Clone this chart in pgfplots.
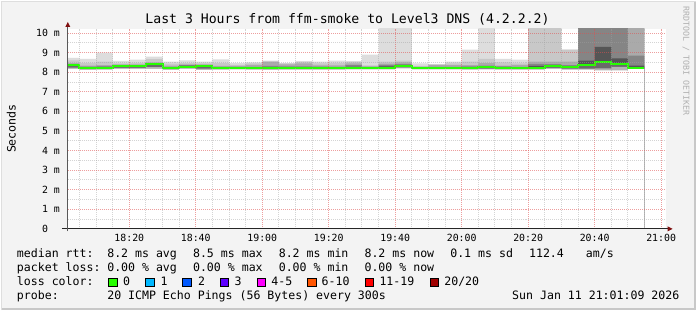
\documentclass[border=0pt]{standalone}
\usepackage{fontspec}
\setmainfont{DejaVu Sans Mono}
\usepackage{pgfplots}
\usepackage{pgfplotstable}
\pgfplotsset{compat=1.18}

\definecolor{canvas}{HTML}{F3F3F3}
\definecolor{edge}{HTML}{C8C8C8}
\definecolor{sA}{HTML}{DDDDDD}
\definecolor{sB}{HTML}{C8C8C8}
\definecolor{sC}{HTML}{AAAAAA}
\definecolor{sD}{HTML}{858585}
\definecolor{sE}{HTML}{555555}
\definecolor{sF}{HTML}{6A6A6A}
\definecolor{sG}{HTML}{B4B4B4}
\definecolor{medc}{HTML}{26FF00}
\definecolor{mgrid}{HTML}{E05050}
\definecolor{agrid}{HTML}{A0A0A0}
\definecolor{arrowred}{HTML}{801010}
\definecolor{lA}{HTML}{00B8FF}
\definecolor{lB}{HTML}{0059FF}
\definecolor{lC}{HTML}{5E00FF}
\definecolor{lD}{HTML}{FF00FF}
\definecolor{lE}{HTML}{FF5500}
\definecolor{lF}{HTML}{FF0000}
\definecolor{lG}{HTML}{A00000}
\definecolor{rrdgray}{HTML}{B0B0B0}

% smoke bands per 5-minute step (minutes after 18:00)
\pgfplotstableread{
x   lo   m1   med  u1   u2    u3    u4    hi
0   8.17 8.24 8.36 8.38 8.40  8.47  8.61  8.74
5   8.12 8.16 8.20 8.25 8.29  8.34  8.47  8.68
10  8.14 8.18 8.24 8.27 8.30  8.37  8.54  9.00
15  8.17 8.22 8.30 8.32 8.35  8.40  8.45  8.58
20  8.17 8.22 8.30 8.32 8.35  8.40  8.48  8.64
25  8.17 8.26 8.40 8.43 8.46  8.51  8.67  8.80
30  8.12 8.16 8.20 8.24 8.28  8.34  8.44  8.54
35  8.17 8.22 8.27 8.33 8.36  8.40  8.47  8.61
40  8.12 8.18 8.31 8.33 8.36  8.40  8.46  8.54
45  8.14 8.18 8.22 8.25 8.28  8.33  8.47  8.66
50  8.15 8.18 8.22 8.25 8.28  8.32  8.38  8.47
55  8.14 8.17 8.20 8.24 8.27  8.38  8.45  8.50
60  8.12 8.16 8.21 8.26 8.33  8.52  8.57  8.59
65  8.14 8.18 8.22 8.25 8.30  8.40  8.45  8.47
70  8.13 8.16 8.21 8.25 8.30  8.45  8.53  8.57
75  8.14 8.17 8.20 8.26 8.29  8.35  8.45  8.54
80  8.14 8.17 8.20 8.24 8.28  8.35  8.48  8.59
85  8.15 8.19 8.24 8.28 8.36  8.45  8.53  8.57
90  8.15 8.17 8.21 8.24 8.27  8.30  8.35  8.90
95  8.15 8.19 8.24 8.30 8.38  8.44  8.54  10.50
100 8.20 8.25 8.32 8.36 8.42  8.50  8.60  10.50
105 8.15 8.18 8.21 8.24 8.26  8.29  8.32  8.46
110 8.15 8.18 8.21 8.24 8.27  8.37  8.40  8.42
115 8.15 8.18 8.21 8.24 8.27  8.37  8.45  8.54
120 8.14 8.17 8.20 8.24 8.30  8.37  8.54  9.15
125 8.15 8.19 8.25 8.30 8.34  8.47  8.68  10.50
130 8.14 8.17 8.21 8.25 8.30  8.34  8.50  8.69
135 8.14 8.17 8.21 8.25 8.28  8.38  8.45  8.64
140 8.14 8.17 8.21 8.33 8.43  8.54  10.50 10.50
145 8.17 8.22 8.32 8.36 8.42  8.54  10.50 10.50
150 8.14 8.19 8.26 8.30 8.37  8.54  9.15  9.15
155 8.14 8.18 8.39 8.60 10.50 10.50 10.50 10.50
160 8.10 8.20 8.52 9.30 10.50 10.50 10.50 10.50
165 8.10 8.28 8.41 8.71 10.50 10.50 10.50 10.50
170 8.16 8.19 8.23 8.34 8.85  10.50 10.50 10.50
175 8.16 8.19 8.23 8.34 8.85  10.50 10.50 10.50
}\smoke

\newcommand{\lf}{\fontsize{11.6}{13}\selectfont}

\begin{document}
\begin{tikzpicture}[x=1pt,y=1pt]
% canvas
\fill[canvas] (0,0) rectangle (697,310);
\draw[edge, line width=2pt] (0,1) -- (697,1);
\draw[edge, line width=2pt] (696,0) -- (696,310);
\draw[edge!60, line width=1pt] (0,309.5) -- (697,309.5);
\draw[edge!60, line width=1pt] (0.5,0) -- (0.5,310);

\begin{axis}[
  at={(67pt,81.5pt)}, anchor=south west, scale only axis,
  width=600pt, height=200.8pt,
  xmin=1.5, xmax=181.5, ymin=0, ymax=10.23,
  axis on top,
  axis background/.style={fill=white},
  axis line style={draw=none},
  tick style={draw=none},
  xtick={20,40,60,80,100,120,140,160,180},
  xticklabels={18:20,18:40,19:00,19:20,19:40,20:00,20:20,20:40,21:00},
  minor xtick={5,10,15,25,30,35,45,50,55,65,70,75,85,90,95,105,110,115,125,130,135,145,150,155,165,170,175},
  ytick={0,1,2,3,4,5,6,7,8,9,10},
  yticklabels={0\hphantom{\ m},1\ m,2\ m,3\ m,4\ m,5\ m,6\ m,7\ m,8\ m,9\ m,10\ m},
  minor ytick={0.5,1.5,2.5,3.5,4.5,5.5,6.5,7.5,8.5,9.5},
  grid=both,
  major grid style={draw=mgrid, opacity=0.55, line width=1pt, dash pattern=on 1pt off 1pt},
  minor grid style={draw=agrid, opacity=0.45, line width=1pt, dash pattern=on 1pt off 1pt},
  tick label style={font=\fontsize{9.9}{11}\selectfont, inner sep=0pt},
  xticklabel style={anchor=north, yshift=-4.8pt},
  yticklabel style={anchor=east, xshift=-7.7pt},
]
\addplot[ybar interval, fill=sA, draw=none] table[x=x, y=hi]{\smoke};
\addplot[ybar interval, fill=sB, draw=none] table[x=x, y=u4]{\smoke};
\addplot[ybar interval, fill=sC, draw=none] table[x=x, y=u3]{\smoke};
\addplot[ybar interval, fill=sD, draw=none] table[x=x, y=u2]{\smoke};
\addplot[ybar interval, fill=sE, draw=none] table[x=x, y=u1]{\smoke};
\addplot[ybar interval, fill=sF, draw=none] table[x=x, y=med]{\smoke};
\addplot[ybar interval, fill=sG, draw=none] table[x=x, y=m1]{\smoke};
\addplot[ybar interval, fill=white, draw=none] table[x=x, y=lo]{\smoke};
\addplot[const plot, draw=medc, line width=2pt] table[x=x, y=med]{\smoke};
\end{axis}

% axes with arrows
\draw[line width=1pt, black!85] (61,81.5) -- (669,81.5);
\fill[arrowred] (668.5,84) -- (673.5,81.5) -- (668.5,79) -- cycle;
\draw[line width=1pt, black!65] (67,79) -- (67,285);
\fill[arrowred] (64.5,284) -- (67,289) -- (69.5,284) -- cycle;

% title
\node[anchor=base, inner sep=0pt, font=\fontsize{13.2}{15}\selectfont] at (347.5,287) {Last 3 Hours from ffm-smoke to Level3 DNS (4.2.2.2)};
% y label
\node[rotate=90, inner sep=0pt, font=\lf] at (10.3,182) {Seconds};
% rrdtool watermark
\node[rotate=-90, anchor=west, inner sep=0pt, text=rrdgray, font=\fontsize{8.3}{9}\selectfont] at (687,305) {RRDTOOL / TOBI OETIKER};

% legend line 1
\begin{scope}[every node/.style={anchor=base west, inner sep=0pt, font=\lf}]
\node at (15.8,52.3) {median rtt:};
\node at (106.4,52.3) {8.2 ms avg};
\node at (192.4,52.3) {8.5 ms max};
\node at (278.4,52.3) {8.2 ms min};
\node at (364.4,52.3) {8.2 ms now};
\node at (450.4,52.3) {0.1 ms sd};
\node at (529.4,52.3) {112.4};
\node at (586.4,52.3) {am/s};
% line 2
\node at (15.8,38.3) {packet loss:};
\node at (106.4,38.3) {0.00 \% avg};
\node at (192.4,38.3) {0.00 \% max};
\node at (278.4,38.3) {0.00 \% min};
\node at (364.4,38.3) {0.00 \% now};
% line 3
\node at (15.8,24.3) {loss color:};
\node at (122.4,24.3) {0};
\node at (159.8,24.3) {1};
\node at (197.4,24.3) {2};
\node at (234.1,24.3) {3};
\node at (271.0,24.3) {4-5};
\node at (321.4,24.3) {6-10};
\node at (379.4,24.3) {11-19};
\node at (444.4,24.3) {20/20};
% line 4
\node at (15.8,10.3) {probe:};
\node at (106.4,10.3) {20 ICMP Echo Pings (56 Bytes) every 300s};
\node[anchor=base east] at (680.5,10.3) {Sun Jan 11 21:01:09 2026};
\end{scope}
% loss colour boxes
\filldraw[fill=medc, draw=black, line width=0.8pt] (108,23.3) rectangle (116.4,31.7);
\filldraw[fill=lA, draw=black, line width=0.8pt] (145.3,23.3) rectangle (153.7,31.7);
\filldraw[fill=lB, draw=black, line width=0.8pt] (182.3,23.3) rectangle (190.7,31.7);
\filldraw[fill=lC, draw=black, line width=0.8pt] (219.6,23.3) rectangle (228,31.7);
\filldraw[fill=lD, draw=black, line width=0.8pt] (257,23.3) rectangle (265.4,31.7);
\filldraw[fill=lE, draw=black, line width=0.8pt] (307.6,23.3) rectangle (316,31.7);
\filldraw[fill=lF, draw=black, line width=0.8pt] (365.3,23.3) rectangle (373.7,31.7);
\filldraw[fill=lG, draw=black, line width=0.8pt] (430.2,23.3) rectangle (438.6,31.7);
\end{tikzpicture}
\end{document}
